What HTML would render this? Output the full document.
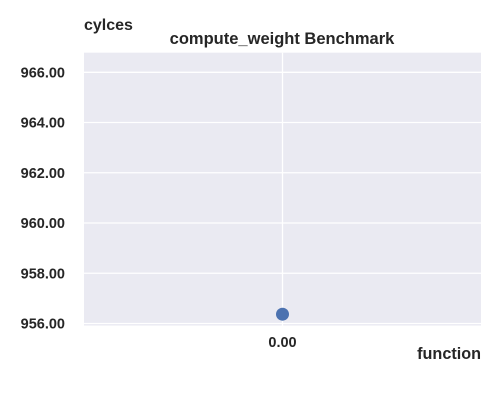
<!DOCTYPE html>
<html><head><meta charset="utf-8"><style>
body{margin:0;background:#fff;font-family:"Liberation Sans",Arial,sans-serif;}
svg text{font-family:"Liberation Sans",Arial,sans-serif;font-weight:bold;fill:#262626;}
</style></head><body>
<svg id="chart" width="500" height="400">
<rect x="84" y="52.7" width="397" height="272.8" fill="#eaeaf2"/>
<g id="grid"></g>
<g id="yticks"></g>
<g id="xticks"></g>
<g id="points"></g>
<text x="84" y="30" font-size="16">cylces</text>
<text x="282" y="44" font-size="16.5" text-anchor="middle">compute_weight Benchmark</text>
<text x="481" y="359" font-size="16.2" text-anchor="end">function</text>
</svg>
<script>
const categories = [0.00];
const cycles = [956.37];
const yTicks = [956, 958, 960, 962, 964, 966];
const xTicks = [0.00];
const NS = "http://www.w3.org/2000/svg";
const x0 = 84, x1 = 481, yTop = 52.7, yBot = 325.5;
const yMin = 955.92, yMax = 966.78, xMin = -0.05, xMax = 0.05;
function sx(v){return x0 + (v - xMin) / (xMax - xMin) * (x1 - x0);}
function sy(v){return yBot - (v - yMin) / (yMax - yMin) * (yBot - yTop);}
function mk(tag, attrs, parent){const e=document.createElementNS(NS,tag);for(const k in attrs)e.setAttribute(k,attrs[k]);document.getElementById(parent).appendChild(e);return e;}
yTicks.forEach(t=>{
  const l=mk("line",{x1:x0,x2:x1,y1:sy(t),y2:sy(t),stroke:"#fff","stroke-width":1.3},"grid");
  
  
  const tx=mk("text",{x:65,y:sy(t)+5,"font-size":14.5,"text-anchor":"end"},"yticks");
  tx.textContent=t.toFixed(2);
  
  
});
xTicks.forEach(t=>{
  const l=mk("line",{x1:sx(t),x2:sx(t),y1:yTop,y2:yBot,stroke:"#fff","stroke-width":1.3},"grid");
  
  
  const tx=mk("text",{x:sx(t),y:347,"font-size":14.5,"text-anchor":"middle"},"xticks");
  tx.textContent=t.toFixed(2);
  
  
});
categories.forEach((c,i)=>{
  const p=mk("circle",{cx:sx(c),cy:sy(cycles[i]),r:6.5,fill:"#4c72b0"},"points");
  
  
});
</script>
</body></html>
